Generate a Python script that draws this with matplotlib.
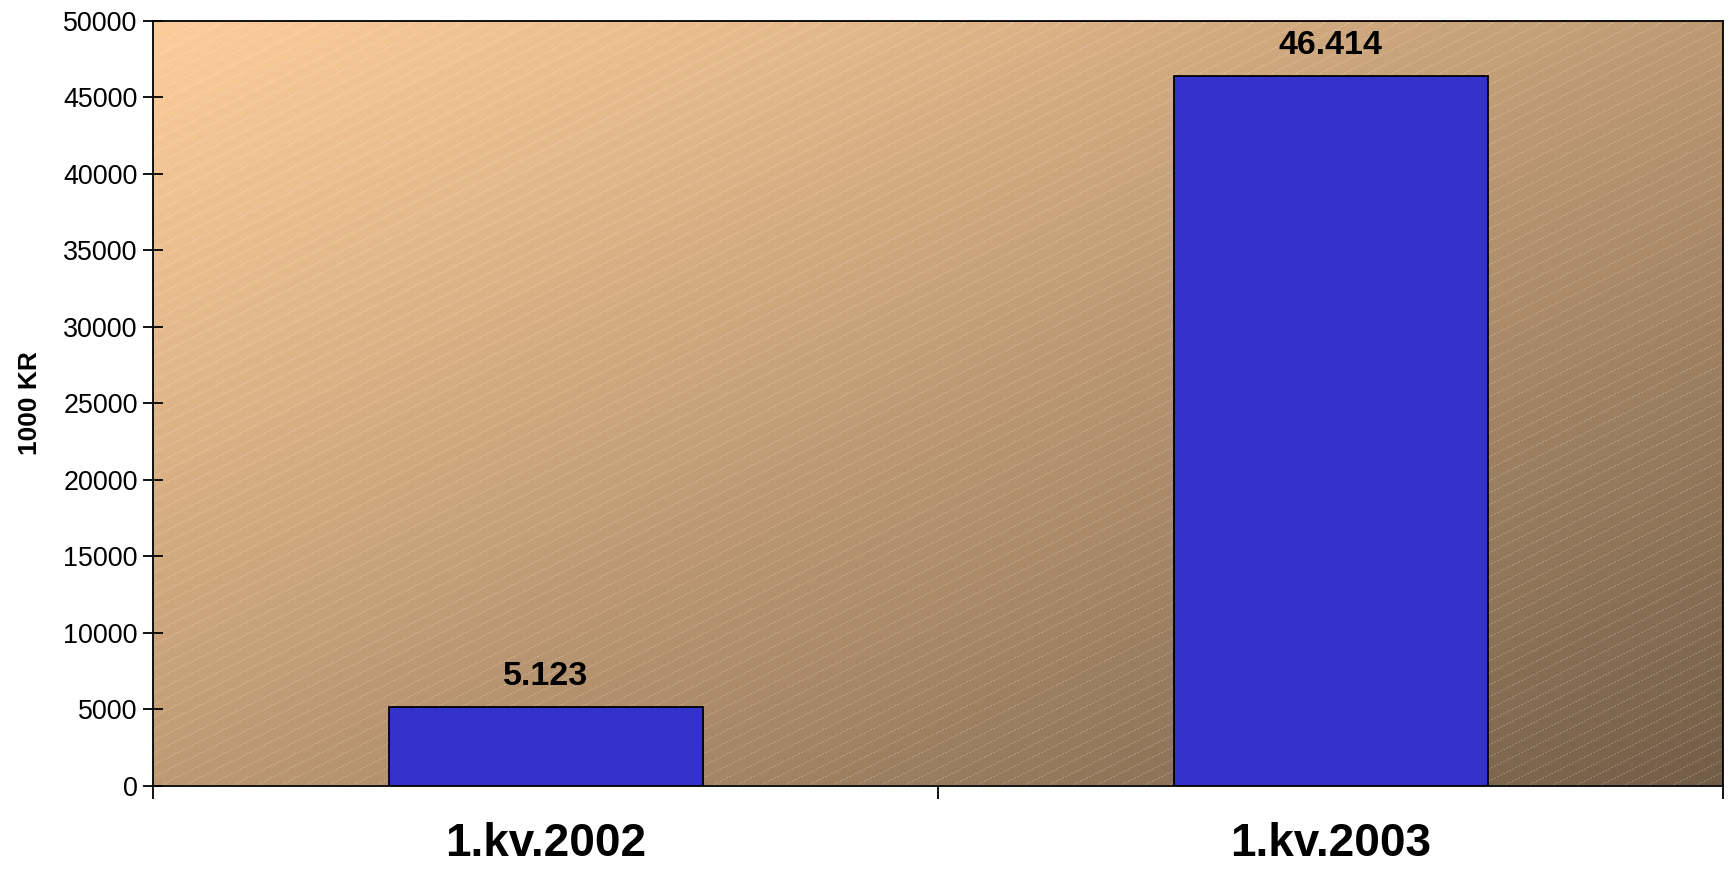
import numpy as np
import matplotlib
matplotlib.use("Agg")
import matplotlib.pyplot as plt

# chart data
categories = ["1.kv.2002", "1.kv.2003"]
values = [5123, 46414]
value_labels = ["5.123", "46.414"]
y_ticks = list(range(0, 50001, 5000))

plt.rcParams['font.family'] = ['Liberation Sans', 'DejaVu Sans']

W_PX, H_PX = 1730, 874
fig = plt.figure(figsize=(W_PX / 100, H_PX / 100), dpi=100)
pos = [153 / W_PX, 1 - 785.5 / H_PX, 1570 / W_PX, 764.5 / H_PX]

# background: diagonal gradient with thin dotted light lines
def make_background(w, h):
    yy, xx = np.mgrid[0:h, 0:w].astype(float)
    t = (xx / w + yy / h) / 2.0
    c0 = np.array([252, 204, 153]) / 255.0
    c1 = np.array([114, 93, 71]) / 255.0
    t = t ** 1.15
    img = c0[None, None, :] * (1 - t[..., None]) + c1[None, None, :] * t[..., None]
    slope = 0.5
    phase = np.mod(yy + slope * xx, 12.0)
    on_line = (phase < 1.0) & (np.mod(xx, 3) < 2)
    img[on_line] = img[on_line] * 0.75 + 0.25
    return img

bg = fig.add_axes(pos, zorder=0)
bg.imshow(make_background(1570, 765), aspect='auto', interpolation='nearest',
          extent=[0, 1, 0, 1])
bg.axis('off')

ax = fig.add_axes(pos, zorder=1)
ax.patch.set_alpha(0)

x = np.arange(len(categories))
ax.bar(x, values, width=0.40, color='#3333CC', edgecolor='black', linewidth=1.3, zorder=3)

for xi, v, lab in zip(x, values, value_labels):
    ax.annotate(lab, (xi, v), xytext=(0, 16), textcoords='offset points',
                ha='center', va='baseline', fontsize=24.5, fontweight='bold')

ax.set_xlim(-0.5, len(categories) - 0.5)
ax.set_ylim(0, 50000)
ax.set_yticks(y_ticks)
ax.set_yticklabels([str(t) for t in y_ticks], fontsize=19.4)
ax.tick_params(axis='y', direction='inout', length=14, width=1.3, pad=4)

ax.set_xticks(x)
ax.set_xticklabels(categories, fontsize=33, fontweight='bold')
ax.set_xticks(np.arange(-0.5, len(categories)), minor=True)
ax.tick_params(axis='x', which='major', length=0, pad=26)
ax.tick_params(axis='x', which='minor', direction='out', length=9.5, width=1.3)

ax.set_ylabel("1000 KR", fontsize=19, fontweight='bold', labelpad=15)

for s in ax.spines.values():
    s.set_linewidth(1.3)

fig.savefig("out.png", dpi=100)
